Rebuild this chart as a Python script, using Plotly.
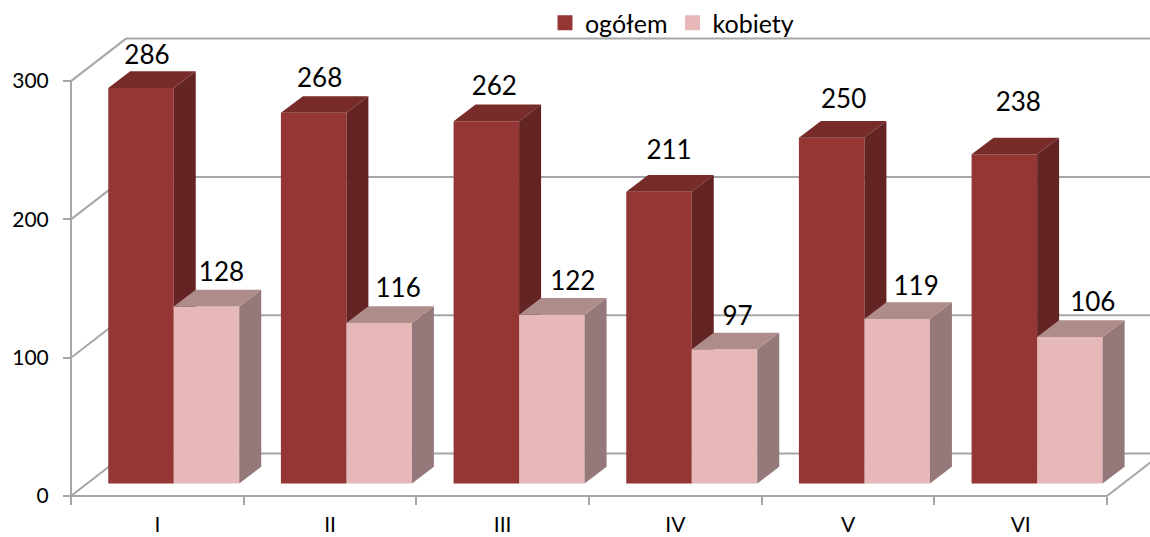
import plotly.graph_objects as go

categories = ["I", "II", "III", "IV", "V", "VI"]
ogolem = [286, 268, 262, 211, 250, 238]
kobiety = [128, 116, 122, 97, 119, 106]
y_ticks = [0, 100, 200, 300]

# label placement relative to the top of each bar (px right, px up)
ogolem_label_shift = [6, 6, 8, 10, 12, 14]
ogolem_label_lift = [30, 32, 33, 39, 36, 50]
kobiety_label_shift = [15, 19, 21, 13, 19, 23]
kobiety_label_lift = [32, 33, 31, 31, 30, 32]

W, H = 1150, 537
AX_X0, AX_Y0 = 71, 496          # pixel of category 0 / value 0
PX_CAT, PX_VAL = 172.67, 1.383  # pixels per category / per value unit
FONT = "Lato"
GREY = "#a6a6a6"

x_range = [-AX_X0 / PX_CAT, (W - AX_X0) / PX_CAT]
y_range = [-(H - AX_Y0) / PX_VAL, AX_Y0 / PX_VAL]

wall_dx, wall_dy = 55 / PX_CAT, 42.5 / PX_VAL
bar_dx, bar_dy = 22 / PX_CAT, 16.7 / PX_VAL
bar_w = 65.5 / PX_CAT
bar_base = 12.5 / PX_VAL
bar_mid = 0.595


def polygons(values, left):
    side_x, side_y, top_x, top_y = [], [], [], []
    for i, v in enumerate(values):
        x0 = i + bar_mid + (-bar_w if left else 0)
        x1 = x0 + bar_w
        t = v + bar_base
        side_x += [x1, x1 + bar_dx, x1 + bar_dx, x1, x1, None]
        side_y += [bar_base, bar_base + bar_dy, t + bar_dy, t, bar_base, None]
        top_x += [x0, x0 + bar_dx, x1 + bar_dx, x1, x0, None]
        top_y += [t, t + bar_dy, t + bar_dy, t, t, None]
    return side_x, side_y, top_x, top_y


def poly_trace(x, y, color, xa, ya):
    return go.Scatter(x=x, y=y, mode="lines", fill="toself", fillcolor=color,
                      line=dict(width=0, color=color), showlegend=False,
                      hoverinfo="skip", xaxis=xa, yaxis=ya)


def add_series(fig, name, values, left, front, side, top, xa, ya):
    xs = [i + bar_mid + (-bar_w / 2 if left else bar_w / 2) for i in range(len(values))]
    fig.add_trace(go.Bar(x=xs, y=values, base=bar_base, width=bar_w, name=name,
                         showlegend=False,
                         marker=dict(color=front, line=dict(width=0)),
                         xaxis=xa, yaxis=ya))
    sx, sy, tx, ty = polygons(values, left)
    fig.add_trace(poly_trace(sx, sy, side, xa, ya))
    fig.add_trace(poly_trace(tx, ty, top, xa, ya))
    # legend key: a square swatch of the reference's size
    fig.add_trace(go.Scatter(x=[None], y=[None], mode="markers", name=name,
                             marker=dict(symbol="square", size=15, color=front),
                             xaxis=xa, yaxis=ya))


fig = go.Figure()
add_series(fig, "ogółem", ogolem, True, "#943634", "#632423", "#772c2a", "x", "y")
add_series(fig, "kobiety", kobiety, False, "#e6b8b7", "#95787a", "#ae8c8a", "x2", "y2")

# data labels
lab_x, lab_y, lab_t = [], [], []
for i in range(len(categories)):
    lab_x.append(i + bar_mid - bar_w / 2 + ogolem_label_shift[i] / PX_CAT)
    lab_y.append(ogolem[i] + bar_base + ogolem_label_lift[i] / PX_VAL)
    lab_t.append(str(ogolem[i]))
    lab_x.append(i + bar_mid + bar_w / 2 + kobiety_label_shift[i] / PX_CAT)
    lab_y.append(kobiety[i] + bar_base + kobiety_label_lift[i] / PX_VAL)
    lab_t.append(str(kobiety[i]))
fig.add_trace(go.Scatter(x=lab_x, y=lab_y, text=lab_t, mode="text", showlegend=False,
                         textposition="middle center", hoverinfo="skip",
                         textfont=dict(family=FONT, size=26, color="#000000"),
                         xaxis="x2", yaxis="y2"))

# walls, floor and gridlines
shapes = []
n = len(categories)


def seg(x0, y0, x1, y1):
    shapes.append(dict(type="line", xref="x", yref="y", x0=x0, y0=y0, x1=x1, y1=y1,
                       layer="below", line=dict(color=GREY, width=2)))


seg(0, y_ticks[0], 0, y_ticks[-1])
seg(0, 0, n, 0)
seg(n, 0, n + wall_dx, wall_dy)
for v in y_ticks:
    seg(0, v, wall_dx, v + wall_dy)
    seg(wall_dx, v + wall_dy, n + wall_dx, v + wall_dy)

fig.update_layout(
    width=W, height=H, margin=dict(l=0, r=0, t=0, b=0, autoexpand=False),
    paper_bgcolor="white", plot_bgcolor="white",
    barmode="overlay", shapes=shapes,
    font=dict(family=FONT, color="#000000"),
    legend=dict(orientation="h", x=545 / W, y=1.0, xanchor="left", yanchor="top",
                font=dict(family=FONT, size=25), bgcolor="rgba(0,0,0,0)",
                itemwidth=30, traceorder="normal"),
    xaxis=dict(range=x_range, domain=[0, 1], anchor="free", position=(H - AX_Y0) / H,
               automargin=False,
               showgrid=False, zeroline=False, showline=False,
               tickmode="array", tickvals=[i + 0.5 for i in range(n)], ticktext=categories,
               ticks="", ticklabelstandoff=14, tickfont=dict(family=FONT, size=21),
               minor=dict(tickmode="array", tickvals=list(range(n + 1)), ticks="outside",
                          ticklen=8, tickwidth=2, tickcolor=GREY, showgrid=False)),
    yaxis=dict(range=y_range, domain=[0, 1], anchor="free", position=AX_X0 / W,
               automargin=False,
               showgrid=False, zeroline=False, showline=False,
               tickmode="array", tickvals=y_ticks, ticks="outside",
               ticklen=8, tickwidth=2, tickcolor=GREY, ticklabelstandoff=10,
               tickfont=dict(family=FONT, size=21)),
    xaxis2=dict(range=x_range, overlaying="x", visible=False),
    yaxis2=dict(range=y_range, overlaying="y", visible=False),
)

fig.write_html("out.html", config=dict(displayModeBar=False),
               post_script="document.body.style.margin='0';")
